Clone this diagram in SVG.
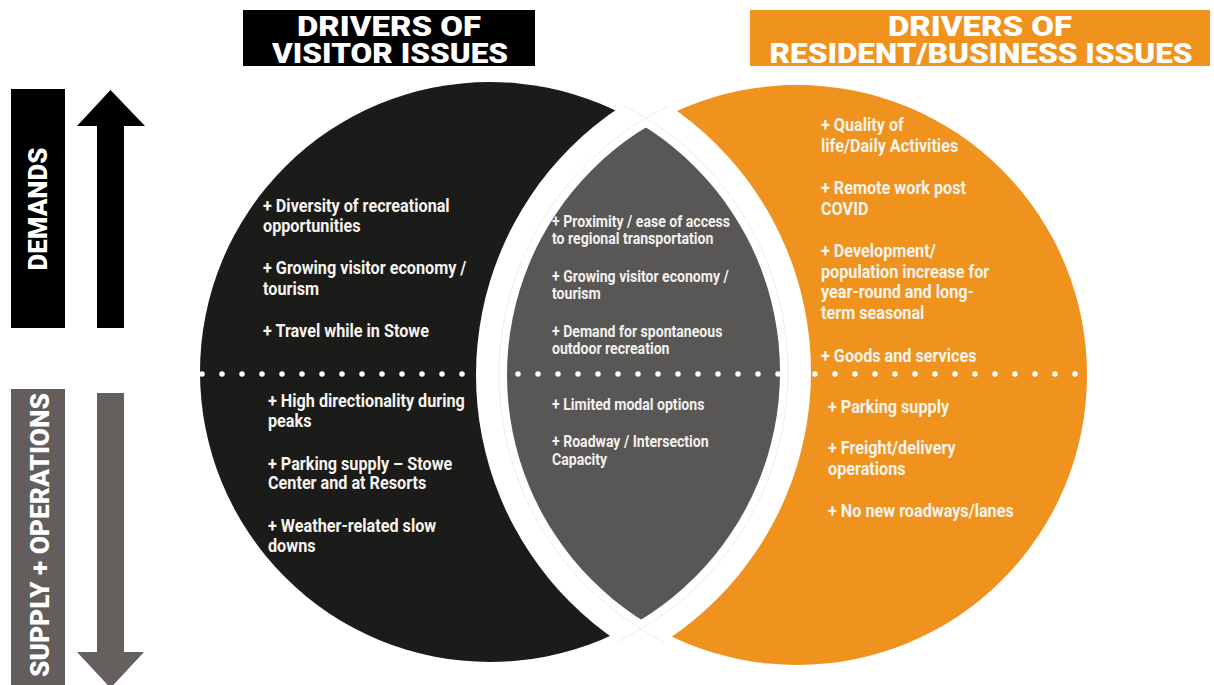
<svg xmlns="http://www.w3.org/2000/svg" width="1214" height="685" viewBox="0 0 1214 685">
  <style>
    .hdr { font-family: Roboto, "Liberation Sans", sans-serif; font-weight: 900; font-size: 28px; fill: #ffffff; text-anchor: middle; }
    .side { font-family: Roboto, "Liberation Sans", sans-serif; font-weight: 900; font-size: 25px; fill: #ffffff; text-anchor: middle; }
    .item { font-family: Roboto, "Liberation Sans", sans-serif; font-weight: 700; font-size: 18px; fill: #f7f4ee; }
    .item-sm { font-family: Roboto, "Liberation Sans", sans-serif; font-weight: 700; font-size: 16px; fill: #f2f0ec; }
    .dots { stroke: #ffffff; stroke-width: 5.5; stroke-linecap: round; stroke-dasharray: 0 20; fill: none; }
    .halo { fill: none; stroke: #ececec; stroke-width: 1; }
  </style>
  <defs>
    <!-- gap between each outer crescent and the shared lens -->
    <mask id="cutRight" maskUnits="userSpaceOnUse" x="0" y="0" width="1214" height="685">
      <rect x="0" y="0" width="1214" height="685" fill="#fff"/>
      <circle cx="797" cy="375" r="321" fill="#000"/>
    </mask>
    <mask id="cutLeft" maskUnits="userSpaceOnUse" x="0" y="0" width="1214" height="685">
      <rect x="0" y="0" width="1214" height="685" fill="#fff"/>
      <circle cx="490" cy="372" r="321" fill="#000"/>
    </mask>
    <clipPath id="leftDisc">
      <circle cx="490" cy="372" r="290"/>
    </clipPath>
    <clipPath id="rightGap">
      <circle cx="797" cy="375" r="321"/>
    </clipPath>
    <clipPath id="leftGap">
      <circle cx="490" cy="372" r="321"/>
    </clipPath>
  </defs>

  <rect width="1214" height="685" fill="#ffffff"/>

  <!-- headers -->
  <g id="header-visitor">
    <rect x="243" y="10" width="292" height="56" fill="#000000"/>
    <text class="hdr" x="389" y="36" textLength="184" lengthAdjust="spacingAndGlyphs">DRIVERS OF</text>
    <text class="hdr" x="390" y="63" textLength="236" lengthAdjust="spacingAndGlyphs">VISITOR ISSUES</text>
  </g>
  <g id="header-resident">
    <rect x="750" y="10" width="460" height="56" fill="#f0921e"/>
    <text class="hdr" x="980" y="36" textLength="184" lengthAdjust="spacingAndGlyphs">DRIVERS OF</text>
    <text class="hdr" x="981" y="63" textLength="423" lengthAdjust="spacingAndGlyphs">RESIDENT/BUSINESS ISSUES</text>
  </g>

  <!-- axis labels -->
  <g id="axis-demands">
    <rect x="11" y="89" width="54" height="239" fill="#000000"/>
    <text class="side" transform="translate(47 209) rotate(-90)" x="0" y="0" textLength="123" lengthAdjust="spacingAndGlyphs">DEMANDS</text>
    <polygon points="97,328 124,328 124,126 145,126 110.5,90 77,126 97,126" fill="#000000"/>
  </g>
  <g id="axis-supply">
    <rect x="11" y="389" width="54" height="296" fill="#635e5b"/>
    <text class="side" transform="translate(49 535) rotate(-90)" x="0" y="0" textLength="284" lengthAdjust="spacingAndGlyphs">SUPPLY + OPERATIONS</text>
    <polygon points="97,393 124,393 124,652 144,652 110.5,688 77,652 97,652" fill="#655f5d"/>
  </g>

  <!-- circles -->
  <g id="visitor-circle">
    <circle cx="490" cy="372" r="290" fill="#1b1b19" mask="url(#cutRight)"/>
  </g>
  <g id="resident-circle">
    <circle cx="797" cy="375" r="290" fill="#f0921e" mask="url(#cutLeft)"/>
  </g>
  <g id="shared-lens">
    <circle class="halo" cx="490" cy="372" r="298" clip-path="url(#rightGap)"/>
    <circle class="halo" cx="797" cy="375" r="298" clip-path="url(#leftGap)"/>
    <circle cx="797" cy="375" r="290" fill="#585756" clip-path="url(#leftDisc)"/>
  </g>

  <!-- demand / supply divider -->
  <g id="connectors">
    <line class="dots" x1="202" y1="374" x2="470" y2="374"/>
    <line class="dots" x1="518" y1="374" x2="785" y2="374"/>
    <line class="dots" x1="815" y1="374" x2="1083" y2="374"/>
  </g>

  <!-- visitor items -->
  <g id="visitor-demands" transform="translate(263 0) scale(0.9 1)">
    <text class="item" y="212"><tspan x="0">+ Diversity of recreational</tspan><tspan x="0" y="232">opportunities</tspan></text>
    <text class="item" y="274"><tspan x="0">+ Growing visitor economy /</tspan><tspan x="0" y="295">tourism</tspan></text>
    <text class="item" x="0" y="337">+ Travel while in Stowe</text>
  </g>
  <g id="visitor-supply" transform="translate(268 0) scale(0.9 1)">
    <text class="item" y="407"><tspan x="0">+ High directionality during</tspan><tspan x="0" y="427">peaks</tspan></text>
    <text class="item" y="470"><tspan x="0">+ Parking supply – Stowe</tspan><tspan x="0" y="489">Center and at Resorts</tspan></text>
    <text class="item" y="532"><tspan x="0">+ Weather-related slow</tspan><tspan x="0" y="552">downs</tspan></text>
  </g>

  <!-- shared items -->
  <g id="shared-demands" transform="translate(552 0) scale(0.88 1)">
    <text class="item-sm" y="227"><tspan x="0"> + Proximity / ease of access</tspan><tspan x="0" y="244">to regional transportation</tspan></text>
    <text class="item-sm" y="282"><tspan x="0">+ Growing visitor economy /</tspan><tspan x="0" y="299">tourism</tspan></text>
    <text class="item-sm" y="337"><tspan x="0">+ Demand for spontaneous</tspan><tspan x="0" y="354">outdoor recreation</tspan></text>
  </g>
  <g id="shared-supply" transform="translate(552 0) scale(0.88 1)">
    <text class="item-sm" x="0" y="410">+ Limited modal options</text>
    <text class="item-sm" y="447"><tspan x="0">+ Roadway / Intersection</tspan><tspan x="0" y="465">Capacity</tspan></text>
  </g>

  <!-- resident / business items -->
  <g id="resident-demands" transform="translate(821 0) scale(0.9 1)">
    <text class="item" y="131"><tspan x="0">+ Quality of</tspan><tspan x="0" y="152">life/Daily Activities</tspan></text>
    <text class="item" y="194"><tspan x="0">+ Remote work post</tspan><tspan x="0" y="215">COVID</tspan></text>
    <text class="item" y="257"><tspan x="0">+ Development/</tspan><tspan x="0" y="278">population increase for</tspan><tspan x="0" y="298">year-round and long-</tspan><tspan x="0" y="319">term seasonal</tspan></text>
    <text class="item" x="0" y="362">+ Goods and services</text>
  </g>
  <g id="resident-supply" transform="translate(828 0) scale(0.9 1)">
    <text class="item" x="0" y="413">+ Parking supply</text>
    <text class="item" y="454"><tspan x="0">+ Freight/delivery</tspan><tspan x="0" y="475">operations</tspan></text>
    <text class="item" x="0" y="517">+ No new roadways/lanes</text>
  </g>
</svg>
